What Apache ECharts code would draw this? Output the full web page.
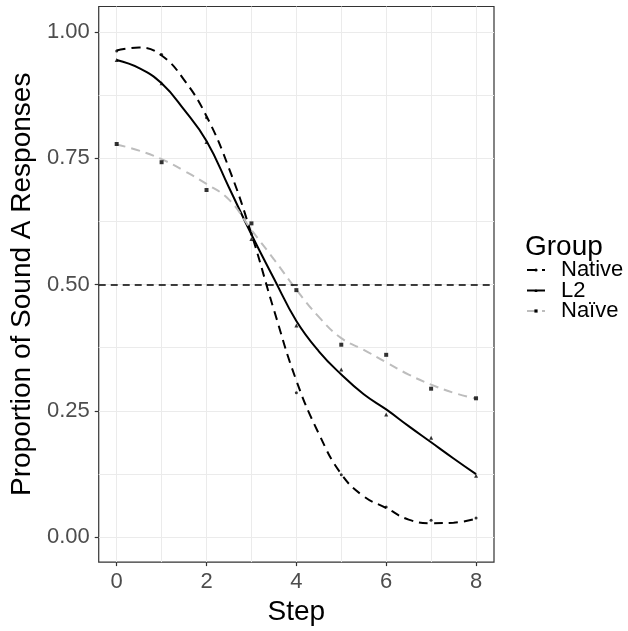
<!DOCTYPE html>
<html>
<head>
<meta charset="utf-8">
<script src="https://cdn.jsdelivr.net/npm/echarts@6/dist/echarts.min.js"></script>
<style>
  html, body { margin: 0; padding: 0; background: #fff; }
  #chart { width: 628px; height: 631px; }
</style>
</head>
<body>
<div id="chart"></div>
<script>
// Observed proportions per continuum step
const steps = [0, 1, 2, 3, 4, 5, 6, 7, 8];
const nativePts = [0.962, 0.955, 0.830, 0.600, 0.286, 0.124, 0.060, 0.034, 0.038];
const l2Pts     = [0.944, 0.898, 0.782, 0.590, 0.419, 0.332, 0.243, 0.197, 0.122];
const naivePts  = [0.778, 0.742, 0.687, 0.621, 0.489, 0.381, 0.361, 0.294, 0.275];

// Smoothed fit traced at half-step positions
const fitX = [0, 0.5, 1, 1.5, 2, 2.5, 3, 3.5, 4, 4.5, 5, 5.5, 6, 6.5, 7, 7.5, 8];
const nativeFit = [0.963, 0.969, 0.953, 0.905, 0.833, 0.730, 0.600, 0.450, 0.310, 0.205, 0.125, 0.081, 0.058, 0.035, 0.028, 0.029, 0.037];
const l2Fit     = [0.944, 0.928, 0.898, 0.846, 0.784, 0.692, 0.599, 0.512, 0.428, 0.368, 0.322, 0.283, 0.253, 0.220, 0.188, 0.156, 0.125];
const naiveFit  = [0.777, 0.765, 0.748, 0.725, 0.699, 0.668, 0.608, 0.550, 0.490, 0.436, 0.394, 0.371, 0.346, 0.322, 0.302, 0.286, 0.274];

const groups = ['Native', 'L2', 'Naïve'];
const xMajor = [0, 2, 4, 6, 8];
const xAll = [0, 1, 2, 3, 4, 5, 6, 7, 8];
const yMajor = [0, 0.25, 0.5, 0.75, 1];
const yAll = [0, 0.125, 0.25, 0.375, 0.5, 0.625, 0.75, 0.875, 1];
const threshold = 0.5;

const FONT = '"Liberation Sans", Arial, Helvetica, sans-serif';
const zip = (xs, ys) => xs.map((x, i) => [x, ys[i]]);

const X_MIN = -0.4, X_MAX = 8.4, Y_MIN = -0.049, Y_MAX = 1.05;
const gridColor = '#ebebeb';

const chart = echarts.init(document.getElementById('chart'), null, { renderer: 'canvas' });

const fitStyle = {
  Native: { color: '#000000', type: [9, 6], symbol: 'circle' },
  L2: { color: '#000000', type: 'solid', symbol: 'triangle' },
  'Naïve': { color: '#bdbdbd', type: [9, 6], symbol: 'rect' }
};
const fits = { Native: nativeFit, L2: l2Fit, 'Naïve': naiveFit };
const pts = { Native: nativePts, L2: l2Pts, 'Naïve': naivePts };
const ptSize = { Native: 3, L2: 4, 'Naïve': 4 };

const series = [];
groups.forEach(g => {
  series.push({
    name: g,
    type: 'line',
    xAxisIndex: 0, yAxisIndex: 0,
    data: zip(fitX, fits[g]),
    smooth: 0.45,
    symbol: fitStyle[g].symbol,
    symbolSize: 4,
    showSymbol: false,
    itemStyle: { color: '#000000' },
    lineStyle: { color: fitStyle[g].color, width: 2, type: fitStyle[g].type },
    z: 3,
    silent: true
  });
});
groups.forEach(g => {
  series.push({
    name: g + ' points',
    type: 'scatter',
    xAxisIndex: 0, yAxisIndex: 0,
    data: zip(steps, pts[g]),
    symbol: fitStyle[g].symbol,
    symbolSize: ptSize[g],
    itemStyle: { color: '#000000' },
    z: 4,
    silent: true
  });
});
// Reference line at chance level
series.push({
  type: 'line',
  xAxisIndex: 0, yAxisIndex: 0,
  data: [],
  markLine: {
    silent: true,
    symbol: 'none',
    label: { show: false },
    lineStyle: { color: '#000000', width: 1.5, type: [7, 5] },
    data: [{ yAxis: threshold }]
  },
  z: 2
});

chart.setOption({
  animation: false,
  backgroundColor: '#ffffff',
  title: {
    text: 'Group',
    left: 520, top: 228,
    textStyle: { fontFamily: FONT, fontSize: 28, fontWeight: 'normal', color: '#000' }
  },
  legend: {
    data: groups,
    orient: 'vertical',
    left: 521, top: 254,
    itemWidth: 18, itemHeight: 4,
    itemGap: -1.5,
    textStyle: { fontFamily: FONT, fontSize: 22, color: '#000', lineHeight: 20.5, padding: [0, 0, 0, 11] },
    selectedMode: false
  },
  grid: {
    left: 96.5, right: 134, top: 6.5, bottom: 62.5,
    show: true, borderColor: '#333333', borderWidth: 1.2, backgroundColor: 'transparent'
  },
  xAxis: [
    {
      type: 'value', min: X_MIN, max: X_MAX,
      axisLine: { show: false, onZero: false },
      axisTick: { show: false, customValues: xAll },
      axisLabel: { show: false, customValues: xAll },
      splitLine: { show: true, lineStyle: { color: gridColor, width: 1 } }
    },
    {
      type: 'value', min: X_MIN, max: X_MAX, position: 'bottom',
      axisLine: { show: false, onZero: false },
      axisTick: { show: true, length: 4, inside: false, customValues: xMajor, lineStyle: { color: '#333333', width: 1.2 } },
      axisLabel: { show: true, customValues: xMajor, margin: 9, fontFamily: FONT, fontSize: 22, color: '#4d4d4d' },
      splitLine: { show: false },
      name: 'Step', nameLocation: 'middle', nameGap: 26,
      nameTextStyle: { fontFamily: FONT, fontSize: 28, color: '#000', verticalAlign: 'top' }
    }
  ],
  yAxis: [
    {
      type: 'value', min: Y_MIN, max: Y_MAX,
      axisLine: { show: false, onZero: false },
      axisTick: { show: false, customValues: yAll },
      axisLabel: { show: false, customValues: yAll },
      splitLine: { show: true, lineStyle: { color: gridColor, width: 1 } }
    },
    {
      type: 'value', min: Y_MIN, max: Y_MAX, position: 'left',
      axisLine: { show: false, onZero: false },
      axisTick: { show: true, length: 4, inside: false, customValues: yMajor, lineStyle: { color: '#333333', width: 1.2 } },
      axisLabel: {
        show: true, customValues: yMajor, margin: 9, fontFamily: FONT, fontSize: 22, color: '#4d4d4d',
        formatter: v => v.toFixed(2)
      },
      splitLine: { show: false },
      name: 'Proportion of Sound A Responses', nameLocation: 'middle', nameGap: 56,
      nameTextStyle: { fontFamily: FONT, fontSize: 28, color: '#000' }
    }
  ],
  series: series
});
</script>
</body>
</html>
